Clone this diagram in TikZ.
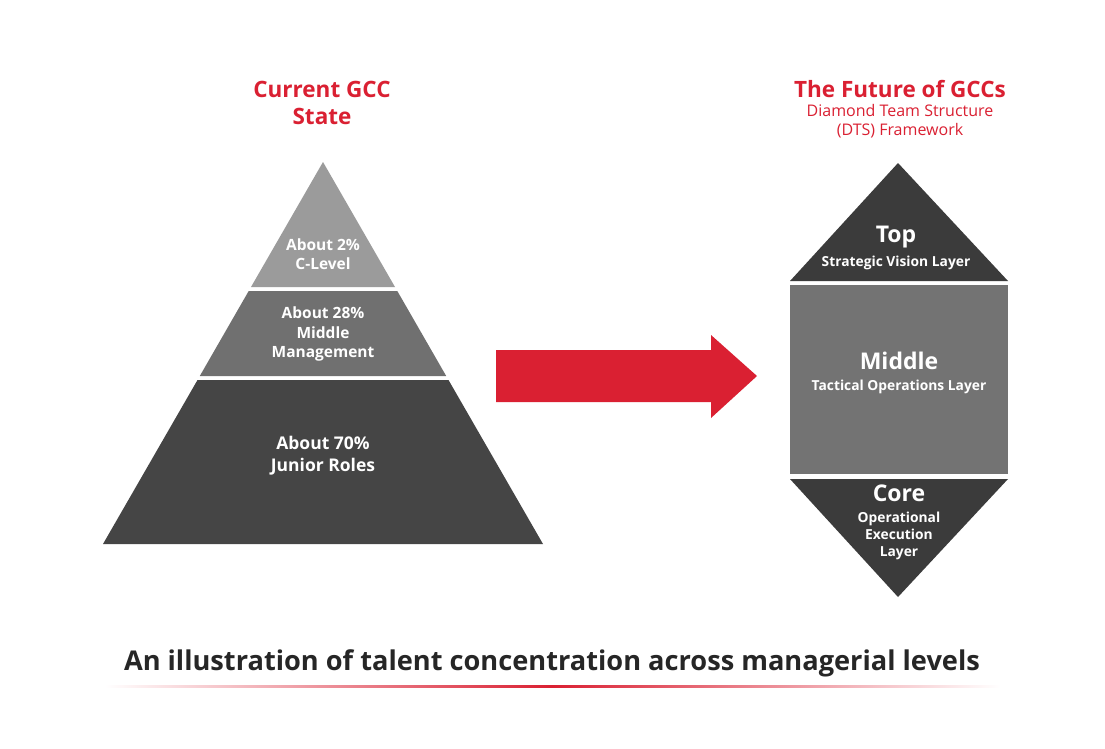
\documentclass[tikz,border=0pt]{standalone}
\usepackage{fontspec}
\setmainfont{Open Sans}
\definecolor{gccred}{RGB}{218,32,50}
\definecolor{pyrtop}{RGB}{155,155,155}
\definecolor{pyrmid}{RGB}{112,112,112}
\definecolor{pyrlow}{RGB}{69,69,69}
\definecolor{dmddark}{RGB}{59,59,59}
\definecolor{dmdmid}{RGB}{115,115,115}
\begin{document}
\begin{tikzpicture}[x=1pt,y=-1pt,
  title/.style={text=gccred, font=\bfseries\fontsize{22.5}{27}\selectfont, align=center},
  sub/.style={text=gccred, font=\fontsize{16}{19}\selectfont, align=center},
  lbl/.style={text=white, font=\bfseries\fontsize{15.5}{19.5}\selectfont, align=center},
  head/.style={text=white, font=\bfseries\fontsize{23}{25}\selectfont},
  small/.style={text=white, font=\bfseries\fontsize{13.8}{17}\selectfont, align=center}]
\useasboundingbox[fill=white] (0,0) rectangle (1105,748);
% left: pyramid
\node[title] (curtitle) at (322,103) {Current GCC\\State};
\fill[pyrtop] (323,162) -- (395,287) -- (251,287) -- cycle;
\fill[pyrmid] (248.7,291) -- (397.3,291) -- (446.2,376) -- (199.8,376) -- cycle;
\fill[pyrlow] (197.5,380) -- (448.5,380) -- (543,544) -- (103,544) -- cycle;
\node[lbl] (clevel) at (323,254) {About 2\%\\C-Level};
\node[lbl] (midmgmt) at (323,334) {About 28\%\\Middle\\Management};
\node[lbl, font=\bfseries\fontsize{17.5}{22}\selectfont] (junior) at (323,456) {About 70\%\\Junior Roles};
% arrow
\fill[gccred] (496,350) -- (711,350) -- (711,335) -- (757,376) -- (711,418) -- (711,402) -- (496,402) -- cycle;
% right: diamond
\node[title] (futtitle) at (900,89) {The Future of GCCs};
\node[sub] (dtstitle) at (900,121) {Diamond Team Structure\\(DTS) Framework};
\fill[dmddark] (898,163) -- (1008,281) -- (790,281) -- cycle;
\fill[dmdmid] (790,285) rectangle (1008,474);
\fill[dmddark] (790,479) -- (1008,479) -- (898,597) -- cycle;
\node[head] (top) at (896,237) {Top};
\node[small] (topsub) at (896,263) {Strategic Vision Layer};
\node[head] (middle) at (899,361) {Middle};
\node[small] (midsub) at (899,387) {Tactical Operations Layer};
\node[head] (core) at (899,493) {Core};
\node[small] (coresub) at (899,536) {Operational\\Execution\\Layer};
% caption
\node[font=\bfseries\fontsize{27.2}{30}\selectfont, text=black!85] (caption) at (552,663) {An illustration of talent concentration across managerial levels};
\shade[left color=white, right color=gccred] (105,685) rectangle (552,687.5);
\shade[left color=gccred, right color=white] (552,685) rectangle (1000,687.5);
\end{tikzpicture}
\end{document}
